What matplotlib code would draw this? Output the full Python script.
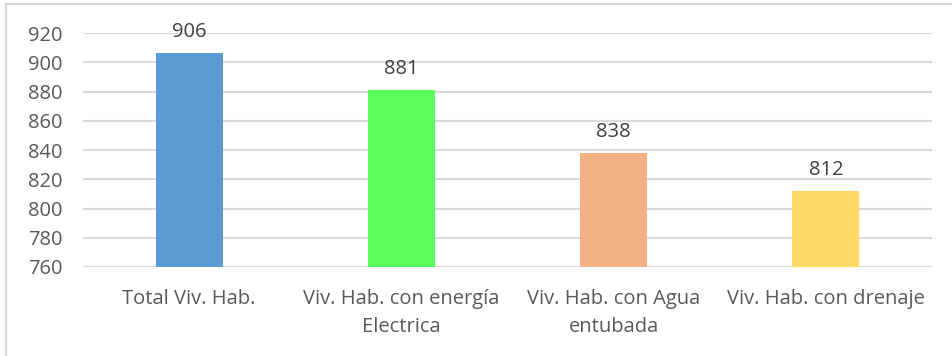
import matplotlib.pyplot as plt
from matplotlib.lines import Line2D

categorias = ["Total Viv. Hab.", "Viv. Hab. con energía\nElectrica",
              "Viv. Hab. con Agua\nentubada", "Viv. Hab. con drenaje"]
viviendas = [906, 881, 838, 812]
colores = ["#5B9BD5", "#5AFF5A", "#F4B183", "#FFD966"]
ticks_y = [760, 780, 800, 820, 840, 860, 880, 900, 920]

plt.rcParams['font.family'] = ['Open Sans', 'DejaVu Sans']
gris = "#595959"
tam = 14.5

fig = plt.figure(figsize=(9.52, 3.56), dpi=100)
ax = fig.add_axes([0.0872, 0.25, 0.8918, 0.6573])

x = range(len(categorias))
barras = ax.bar(x, viviendas, width=0.316, color=colores, zorder=3)
ax.set_ylim(760, 920)
ax.set_xlim(-0.5, len(categorias) - 0.5)
ax.set_yticks(ticks_y)
ax.set_xticks(list(x))
ax.set_xticklabels(categorias, fontsize=tam, color=gris, linespacing=1.55)
ax.tick_params(axis='y', labelsize=tam, labelcolor=gris, length=0, pad=15)
ax.tick_params(axis='x', length=0, pad=16)
ax.yaxis.grid(True, color="#D9D9D9", linewidth=1.5, zorder=0)
for s in ax.spines.values():
    s.set_visible(False)

# etiquetas con el valor encima de cada barra
for b, v in zip(barras, viviendas):
    ax.annotate(str(v), (b.get_x() + b.get_width() / 2, v),
                xytext=(0, 8), textcoords='offset points',
                ha='center', va='bottom', fontsize=tam, color="#404040")

# marco del grafico
fig.add_artist(Line2D([6 / 952, 6 / 952], [0, 1 - 4 / 356], transform=fig.transFigure,
                      color="#D9D9D9", linewidth=1.5))
fig.add_artist(Line2D([6 / 952, 1], [1 - 4 / 356, 1 - 4 / 356], transform=fig.transFigure,
                      color="#D9D9D9", linewidth=1.5))

fig.savefig("out.png", dpi=100)
